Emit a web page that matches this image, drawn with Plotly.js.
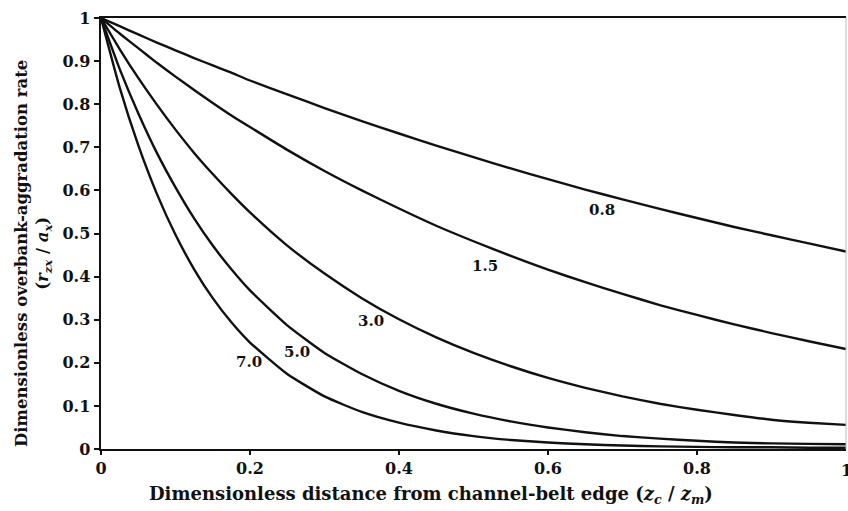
<!DOCTYPE html>
<html>
<head>
<meta charset="utf-8">
<script src="https://cdn.plot.ly/plotly-3.0.1.min.js"></script>
<style>html,body{margin:0;padding:0;background:#fff;}#chart{width:848px;height:511px;}</style>
</head>
<body>
<div id="chart"></div>
<script>
const xVals  = [0, 0.025, 0.05, 0.075, 0.1, 0.125, 0.15, 0.175, 0.2, 0.25, 0.3, 0.35, 0.4, 0.45, 0.5, 0.55, 0.6, 0.65, 0.7, 0.75, 0.8, 0.85, 0.9, 0.95, 1.0];
const curve08 = [1, 0.981, 0.962, 0.943, 0.925, 0.907, 0.890, 0.873, 0.855, 0.823, 0.791, 0.761, 0.732, 0.704, 0.677, 0.651, 0.626, 0.602, 0.579, 0.557, 0.536, 0.515, 0.496, 0.477, 0.458];
const curve15 = [1, 0.964, 0.930, 0.896, 0.864, 0.833, 0.803, 0.774, 0.747, 0.694, 0.645, 0.600, 0.558, 0.518, 0.482, 0.448, 0.416, 0.387, 0.360, 0.334, 0.311, 0.289, 0.269, 0.250, 0.232];
const curve30 = [1, 0.928, 0.861, 0.799, 0.741, 0.687, 0.638, 0.592, 0.549, 0.472, 0.407, 0.350, 0.301, 0.259, 0.223, 0.192, 0.165, 0.142, 0.122, 0.105, 0.091, 0.079, 0.068, 0.061, 0.056];
const curve50 = [1, 0.882, 0.779, 0.687, 0.607, 0.535, 0.472, 0.417, 0.368, 0.287, 0.223, 0.174, 0.135, 0.105, 0.082, 0.064, 0.050, 0.039, 0.030, 0.024, 0.019, 0.015, 0.013, 0.012, 0.011];
const curve70 = [1, 0.839, 0.705, 0.592, 0.497, 0.417, 0.350, 0.294, 0.247, 0.174, 0.122, 0.086, 0.061, 0.043, 0.030, 0.021, 0.015, 0.011, 0.008, 0.006, 0.005, 0.004, 0.004, 0.003, 0.003];
const seriesNames = ["0.8", "1.5", "3.0", "5.0", "7.0"];
const seriesData = [curve08, curve15, curve30, curve50, curve70];
const labelX = [0.672, 0.516, 0.363, 0.263, 0.198];
const labelY = [0.555, 0.425, 0.297, 0.225, 0.202];
const yTicks = [0, 0.1, 0.2, 0.3, 0.4, 0.5, 0.6, 0.7, 0.8, 0.9, 1];
const yTickText = ["0", "0.1", "0.2", "0.3", "0.4", "0.5", "0.6", "0.7", "0.8", "0.9", "1"];
const xTicks = [0, 0.2, 0.4, 0.6, 0.8];
const xTickText = ["0", "0.2", "0.4", "0.6", "0.8"];
const xLastTick = "1";
const xTitle = "Dimensionless distance from channel-belt edge (<i>z</i><sub><i>c</i></sub> / <i>z</i><sub><i>m</i></sub>)";
const yTitle = "Dimensionless overbank-aggradation rate<br>(<i>r</i><sub><i>zx</i></sub> / <i>a</i><sub><i>x</i></sub>)";

const FONT = "DejaVu Serif, Liberation Serif, serif";
const bold = s => "<b>" + s + "</b>";

const traces = seriesData.map((ys, i) => ({
  x: xVals, y: ys, type: "scatter", mode: "lines", name: seriesNames[i],
  line: {color: "#111", width: 2.4, shape: "spline", smoothing: 0.5},
  hoverinfo: "skip", showlegend: false
}));

const annotations = seriesNames.map((n, i) => ({
  x: labelX[i], y: labelY[i], xref: "x", yref: "y", text: bold(n),
  showarrow: false, font: {family: FONT, size: 15, color: "#111"}
}));
annotations.push({
  x: 1, y: 0, xref: "x", yref: "paper", yshift: -21, text: bold(xLastTick),
  showarrow: false, xanchor: "center", yanchor: "middle",
  font: {family: FONT, size: 16, color: "#111"}
});
annotations.push({
  x: (431 - 101) / 745, y: -(495 - 449) / 431, xref: "paper", yref: "paper", text: bold(xTitle),
  showarrow: false, xanchor: "center", yanchor: "middle",
  font: {family: FONT, size: 18, color: "#111"}
});
annotations.push({
  x: -(101 - 34) / 745, y: (449 - 254) / 431, xref: "paper", yref: "paper",
  text: bold(yTitle), textangle: -90, showarrow: false,
  xanchor: "center", yanchor: "middle",
  font: {family: FONT, size: 16.5, color: "#111"}
});

const layout = {
  width: 848, height: 511,
  margin: {l: 101, r: 2, t: 18, b: 62},
  paper_bgcolor: "#fff", plot_bgcolor: "#fff",
  font: {family: FONT, color: "#111"},
  xaxis: {
    range: [0, 1], tickvals: xTicks, ticktext: xTickText.map(bold),
    tickfont: {family: FONT, size: 16, color: "#111"},
    ticks: "outside", ticklen: 4, tickwidth: 2, tickcolor: "#111",
    showline: true, linecolor: "#111", linewidth: 2, mirror: true,
    showgrid: false, zeroline: false
  },
  yaxis: {
    range: [0, 1], tickvals: yTicks, ticktext: yTickText.map(bold),
    tickfont: {family: FONT, size: 16, color: "#111"},
    ticks: "outside", ticklen: 5, tickwidth: 2, tickcolor: "#111",
    showline: true, linecolor: "#111", linewidth: 2.5,
    showgrid: false, zeroline: false
  },
  shapes: [{type: "line", xref: "paper", yref: "paper", x0: 1, x1: 1, y0: 0, y1: 1,
            line: {color: "#bbb", width: 1}}],
  annotations: annotations
};

Plotly.newPlot("chart", traces, layout, {displayModeBar: false, staticPlot: true});
</script>
</body>
</html>
